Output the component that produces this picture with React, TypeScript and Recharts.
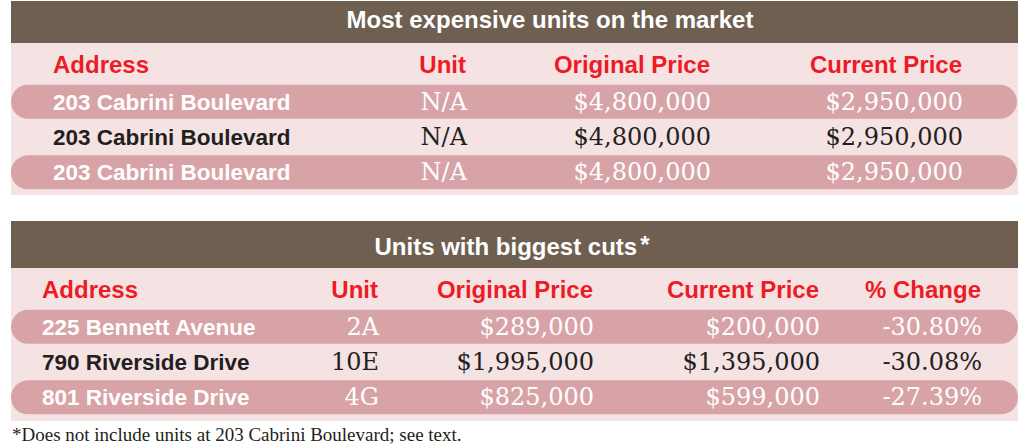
import { BarChart, Bar, XAxis, YAxis } from "recharts"

// most expensive units
const topTitle = "Most expensive units on the market"
const topHeaders = ["Address", "Unit", "Original Price", "Current Price"]
const topAddresses = ["203 Cabrini Boulevard", "203 Cabrini Boulevard", "203 Cabrini Boulevard"]
const topUnits = ["N/A", "N/A", "N/A"]
const topOriginal = [4800000, 4800000, 4800000]
const topCurrent = [2950000, 2950000, 2950000]

// biggest cuts
const cutTitle = "Units with biggest cuts"
const cutHeaders = ["Address", "Unit", "Original Price", "Current Price", "% Change"]
const cutAddresses = ["225 Bennett Avenue", "790 Riverside Drive", "801 Riverside Drive"]
const cutUnits = ["2A", "10E", "4G"]
const cutOriginal = [289000, 1995000, 825000]
const cutCurrent = [200000, 1395000, 599000]
const cutChange = [-30.8, -30.08, -27.39]

const footnote = "*Does not include units at 203 Cabrini Boulevard; see text."

const BROWN = "#6E5F50"
const PINK = "#F5E3E4"
const PILL = "#D8A3A6"
const RED = "#ED1C24"
const DARK = "#231F20"
const SANS = "'Liberation Sans', Arial, sans-serif"
const SERIF = "'DejaVu Serif', serif"

const money = (v: number) => "$" + v.toLocaleString("en-US")
const pct = (v: number) => v.toFixed(2) + "%"

const topRows = topAddresses.map((a, i) => ({
  address: a,
  cells: [topUnits[i], money(topOriginal[i]), money(topCurrent[i])],
}))

const cutRows = cutAddresses.map((a, i) => ({
  address: a,
  cells: [cutUnits[i], money(cutOriginal[i]), money(cutCurrent[i]), pct(cutChange[i])],
}))

function Table({
  rows, headers, title, star, top, height, marginTop, marginBottom, marginRight,
  addrX, cols, titleX, titleY, barH, headY,
}: any) {
  const shape = (props: any) => {
    const { x, y, width, height: h, index, payload } = props
    const striped = index % 2 === 0
    const base = y + h / 2 + 8
    const fill = striped ? "#fff" : DARK
    return (
      <g>
        {striped && <rect x={x} y={y} width={width} height={h} rx={h / 2} fill={PILL} />}
        <text x={x + addrX} y={base} fill={fill} fontFamily={SANS} fontWeight="bold" fontSize={22.5}>
          {payload.address}
        </text>
        {payload.cells.map((c: string, j: number) => (
          <text key={j} x={x + cols[j]} y={base} fill={fill} fontFamily={SERIF} fontSize={24} textAnchor="end">
            {c}
          </text>
        ))}
      </g>
    )
  }

  return (
    <div style={{ position: "absolute", left: 11, top, width: 1007, height, background: PINK }}>
      <div style={{ position: "absolute", left: 0, top: 0, width: 1007, height: barH, background: BROWN }} />
      <div style={{ position: "absolute", left: 0, top: 0 }}>
        <BarChart
          width={1007}
          height={height}
          data={rows}
          layout="vertical"
          barCategoryGap="2%"
          margin={{ top: marginTop, bottom: marginBottom, left: 0, right: marginRight }}
        >
          <XAxis type="number" domain={[0, 1]} hide />
          <YAxis type="category" hide />
          <Bar dataKey={() => 1} shape={shape} isAnimationActive={false} />
          <text x={titleX} y={titleY} fill="#fff" fontFamily={SANS} fontWeight="bold" fontSize={24} textAnchor="middle">
            {title}
            {star && <tspan dx={3} dy={-2}>*</tspan>}
          </text>
          {headers.map((h: string, j: number) => (
            <text
              key={h}
              x={j === 0 ? addrX : cols[j - 1] - 1}
              y={headY}
              fill={RED}
              fontFamily={SANS}
              fontWeight="bold"
              fontSize={24}
              textAnchor={j === 0 ? "start" : "end"}
            >
              {h}
            </text>
          ))}
        </BarChart>
      </div>
    </div>
  )
}

export default function App() {
  return (
    <div style={{ position: "fixed", left: 0, top: 0, width: 1020, height: 448, background: "#fff", overflow: "hidden" }}>
      <style>{`html,body{margin:0;overflow:hidden}`}</style>
      <Table
        rows={topRows}
        headers={topHeaders}
        title={topTitle}
        top={1}
        height={194}
        marginTop={83}
        marginBottom={5}
        marginRight={1}
        addrX={42}
        cols={[456, 700, 952]}
        titleX={539}
        titleY={27}
        barH={42}
        headY={72}
      />
      <Table
        rows={cutRows}
        headers={cutHeaders}
        title={cutTitle}
        star
        top={221}
        height={200}
        marginTop={88}
        marginBottom={6}
        marginRight={0}
        addrX={31}
        cols={[368, 583, 809, 971]}
        titleX={501}
        titleY={34}
        barH={47}
        headY={77}
      />
      <svg width={1020} height={27} style={{ position: "absolute", left: 0, top: 421 }}>
        <text x={12} y={20} fill={DARK} fontFamily="'Liberation Serif', serif" fontSize={19}>
          {footnote}
        </text>
      </svg>
    </div>
  )
}
